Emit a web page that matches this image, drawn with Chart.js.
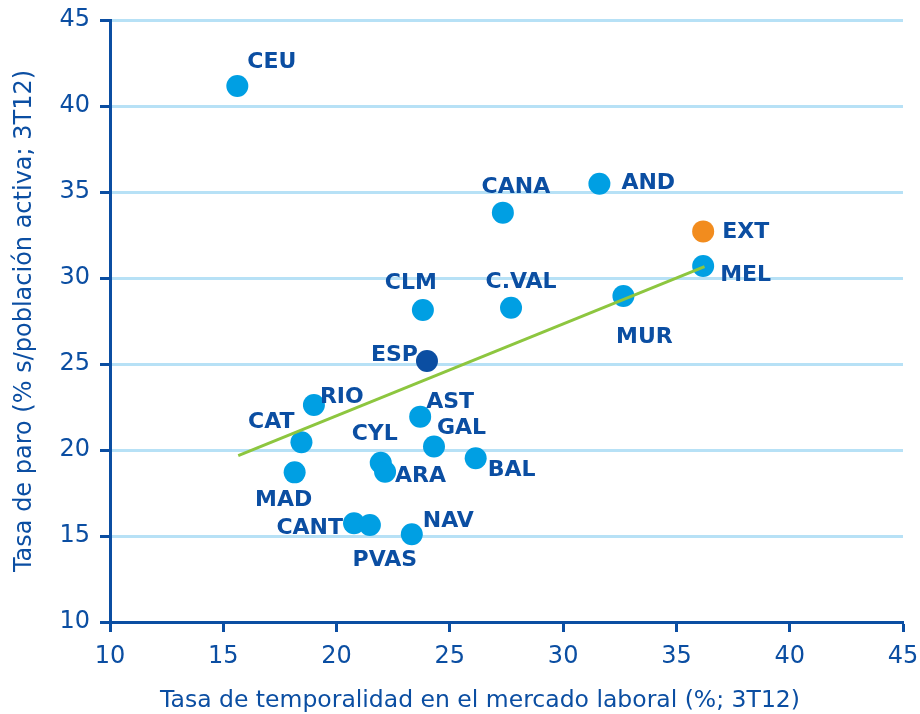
<!DOCTYPE html>
<html>
<head>
<meta charset="utf-8">
<script src="https://cdn.jsdelivr.net/npm/chart.js@4"></script>
<style>
  html, body { margin: 0; padding: 0; background: #fff; }
  #wrap { width: 920px; height: 714px; }
</style>
</head>
<body>
<div id="wrap"><canvas id="paroChart" width="920" height="714"></canvas></div>
<script>
// Comunidades autónomas: temporalidad (x) vs paro (y), 3T12
const regions = ['CEU', 'CANA', 'AND', 'EXT', 'MEL', 'C.VAL', 'MUR', 'CLM', 'ESP', 'RIO',
                 'AST', 'CAT', 'GAL', 'BAL', 'CYL', 'ARA', 'MAD', 'CANT', 'PVAS', 'NAV'];
const temporalidad = [15.62, 27.34, 31.60, 36.18, 36.18, 27.70, 32.66, 23.81, 23.99, 19.00,
                      23.69, 18.45, 24.30, 26.14, 21.95, 22.14, 18.15, 20.77, 21.47, 23.32];
const paro = [41.16, 33.80, 35.48, 32.71, 30.70, 28.27, 28.95, 28.14, 25.17, 22.62,
              21.94, 20.45, 20.20, 19.52, 19.26, 18.74, 18.70, 15.74, 15.64, 15.10];

// regression line end points
const trendX = [15.66, 36.24];
const trendY = [19.67, 30.66];

const xTicks = [10, 15, 20, 25, 30, 35, 40, 45];
const yTicks = [10, 15, 20, 25, 30, 35, 40, 45];

const xTitle = 'Tasa de temporalidad en el mercado laboral (%; 3T12)';
const yTitle = 'Tasa de paro (% s/población activa; 3T12)';

// where each label sits relative to its dot (px)
const labelPos = {
  'CEU': [10, -24, 'left'], 'CANA': [13, -25, 'center'], 'AND': [22, 0, 'left'],
  'EXT': [19, 1, 'left'], 'MEL': [17, 9, 'left'], 'C.VAL': [10, -25, 'center'],
  'MUR': [21, 41, 'center'], 'CLM': [-12, -27, 'center'], 'ESP': [-9, -6, 'right'],
  'RIO': [6, -8, 'left'], 'AST': [6, -14, 'left'], 'CAT': [-7, -20, 'right'],
  'GAL': [3, -18, 'left'], 'BAL': [12, 12, 'left'], 'CYL': [-6, -28, 'center'],
  'ARA': [10, 5, 'left'], 'MAD': [-11, 28, 'center'], 'CANT': [-11, 5, 'right'],
  'PVAS': [15, 35, 'center'], 'NAV': [11, -13, 'left']
};

const darkBlue = '#0b4ea2';
const dotBlue = '#009fe3';
const gridBlue = '#b7e1f6';

const dotColors = regions.map(r => r === 'ESP' ? darkBlue : (r === 'EXT' ? '#f28c1e' : dotBlue));

const pointLabels = {
  id: 'pointLabels',
  afterDatasetsDraw(chart) {
    const ctx = chart.ctx;
    const meta = chart.getDatasetMeta(1);
    ctx.save();
    ctx.font = 'bold 22px "DejaVu Sans"';
    ctx.fillStyle = darkBlue;
    ctx.textBaseline = 'middle';
    meta.data.forEach((pt, i) => {
      const p = labelPos[regions[i]];
      ctx.textAlign = p[2];
      ctx.fillText(regions[i], pt.x + p[0], pt.y + p[1]);
    });
    // x axis title sits a bit left of centre in the original
    ctx.font = '23.5px "DejaVu Sans"';
    ctx.textAlign = 'center';
    ctx.textBaseline = 'alphabetic';
    ctx.fillText(xTitle, 480, 707);
    ctx.restore();
  }
};

const ctx = document.getElementById('paroChart').getContext('2d');
new Chart(ctx, {
  type: 'scatter',
  data: {
    datasets: [
      {
        type: 'line',
        data: trendX.map((x, i) => ({ x: x, y: trendY[i] })),
        borderColor: '#8dc63f',
        borderWidth: 3,
        pointRadius: 0,
        fill: false,
        order: 0
      },
      {
        data: temporalidad.map((x, i) => ({ x: x, y: paro[i] })),
        pointBackgroundColor: dotColors,
        pointBorderWidth: 0,
        pointRadius: 11,
        order: 1
      }
    ]
  },
  options: {
    responsive: false,
    animation: false,
    layout: { padding: { top: 20, right: 17, left: 10, bottom: 0 } },
    plugins: { legend: { display: false }, tooltip: { enabled: false } },
    scales: {
      x: {
        type: 'linear', min: 10, max: 45,
        afterBuildTicks: axis => { axis.ticks = xTicks.map(v => ({ value: v })); },
        afterFit: axis => { axis.height = 92; axis.paddingLeft = 0; axis.paddingRight = 0; },
        grid: { drawOnChartArea: false, tickLength: 10, tickColor: darkBlue, tickWidth: 3 },
        border: { color: darkBlue, width: 3 },
        ticks: { color: darkBlue, font: { family: 'DejaVu Sans', size: 24 }, padding: 10, maxRotation: 0 }
      },
      y: {
        type: 'linear', min: 10, max: 45,
        afterBuildTicks: axis => { axis.ticks = yTicks.map(v => ({ value: v })); },
        afterFit: axis => { axis.width = 100; axis.paddingTop = 0; axis.paddingBottom = 0; },
        grid: {
          color: c => c.tick && c.tick.value === 10 ? 'rgba(0,0,0,0)' : gridBlue,
          lineWidth: 3, tickLength: 10, tickColor: darkBlue, tickWidth: 3
        },
        border: { color: darkBlue, width: 3 },
        ticks: { color: darkBlue, font: { family: 'DejaVu Sans', size: 24 }, padding: 10 },
        title: {
          display: true, text: yTitle,
          color: darkBlue, font: { family: 'DejaVu Sans', size: 24 }, padding: 0
        }
      }
    }
  },
  plugins: [pointLabels]
});
</script>
</body>
</html>
